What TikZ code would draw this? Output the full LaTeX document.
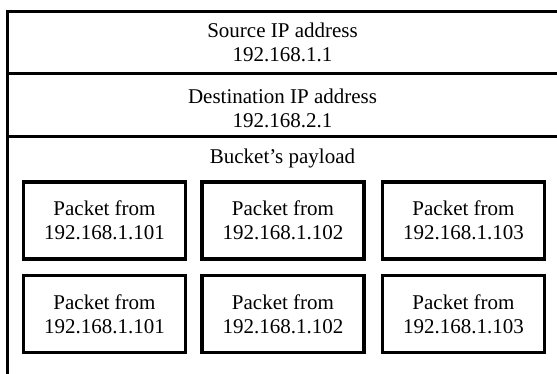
\documentclass[tikz,border=0pt]{standalone}
\usepackage{fontspec}
\setmainfont{Liberation Serif}
\begin{document}
\begin{tikzpicture}[x=1pt,y=-1pt,
  frame/.style={line width=3pt,draw=black},
  label/.style={align=center,inner sep=0pt,font=\fontsize{21}{24}\selectfont},
  pktbox/.style={draw=black,line width=3.2pt,minimum width=162pt,minimum height=77pt,
    align=center,inner sep=0pt,font=\fontsize{21}{24}\selectfont}]
  \useasboundingbox (0,0) rectangle (557,374);

  % frame: top edge, left edge and field separators
  \coordinate (tl) at (7.5,12);
  \coordinate (tr) at (560,12);
  \coordinate (bl) at (7.5,380);
  \coordinate (s1l) at (7.5,73.5);
  \coordinate (s1r) at (560,73.5);
  \coordinate (s2l) at (7.5,136.5);
  \coordinate (s2r) at (560,136.5);
  \draw[frame] (tr) -- (tl) -- (bl);
  \draw[frame] (s1l) -- (s1r);
  \draw[frame] (s2l) -- (s2r);

  % header fields
  \node[label] (src) at (282.5,42) {Source IP address\\192.168.1.1};
  \node[label] (dst) at (282.5,108.5) {Destination IP address\\192.168.2.1};
  \node[label,anchor=base] (pay) at (282.5,164) {Bucket’s payload};

  % packets carried in the payload
  \node[pktbox] (p11) at (104.5,220.5) {Packet from\\192.168.1.101};
  \node[pktbox] (p12) at (283,220.5) {Packet from\\192.168.1.102};
  \node[pktbox] (p13) at (463.5,220.5) {Packet from\\192.168.1.103};
  \node[pktbox] (p21) at (104.5,314) {Packet from\\192.168.1.101};
  \node[pktbox] (p22) at (283,314) {Packet from\\192.168.1.102};
  \node[pktbox] (p23) at (463.5,314) {Packet from\\192.168.1.103};
\end{tikzpicture}
\end{document}
